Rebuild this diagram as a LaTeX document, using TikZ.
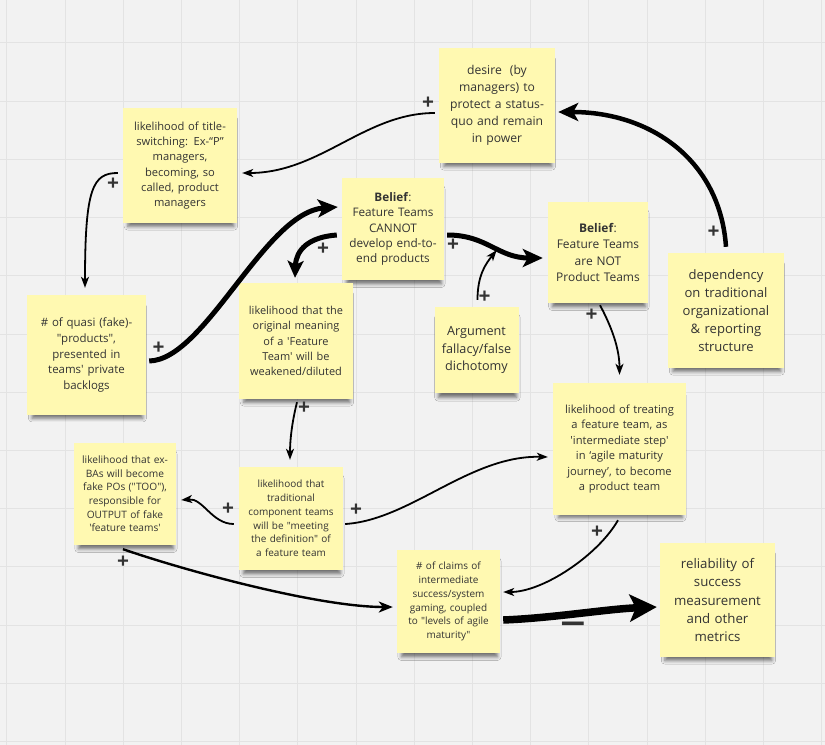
\documentclass[tikz,border=0pt]{standalone}
\usepackage{fontspec}
\usepackage{graphicx}
\setmainfont{Open Sans}[Ligatures=TeXOff]
\usetikzlibrary{arrows.meta,shadows.blur,calc}
\definecolor{bgc}{HTML}{F2F2F2}
\definecolor{gridc}{HTML}{E3E3E3}
\definecolor{notec}{HTML}{FFF9B1}
\definecolor{txtc}{HTML}{333333}
\tikzset{
  note/.style={rectangle, fill=notec, inner sep=0pt, align=center, text=txtc,
    blur shadow={shadow xshift=1bp, shadow yshift=-8bp, shadow blur radius=4bp, shadow opacity=55, shadow scale=0.93}},
  link/.style={draw=black, line width=1.8bp, -{Stealth[length=11bp,width=8bp,inset=3bp]}},
  midlink/.style={draw=black, line width=2.4bp, -{Stealth[length=14bp,width=11bp,inset=4bp]}},
  boldlink/.style={draw=black, line width=5bp, -{Stealth[length=20bp,width=18bp,inset=5bp]}},
  hugelink/.style={draw=black, line width=7.5bp, -{Stealth[length=27bp,width=27bp,inset=6bp]}},
  sign/.style={font=\bfseries\fontsize{21}{21}\selectfont, text=txtc, inner sep=0pt},
}
\begin{document}
\begin{tikzpicture}[x=1bp,y=-1bp]
\useasboundingbox (0,0) rectangle (825,745);
\fill[bgc] (0,0) rectangle (825,745);
\foreach \i in {0,...,14} {\draw[gridc, line width=1bp] ({6.8+58.2*\i},0) -- ({6.8+58.2*\i},745);}
\foreach \i in {0,...,12} {\draw[gridc, line width=1bp] (0,{43+58.2*\i}) -- (825,{43+58.2*\i});}

% notes
\node[note, minimum width=116bp, minimum height=115bp, text width=116bp, font=\fontsize{12.2}{17}\selectfont] (desire) at (497,105.5)
  {desire\ \ (by\\managers) to\\protect a status-\\quo and remain\\in power};
\node[note, minimum width=114bp, minimum height=115bp, text width=114bp, font=\fontsize{11.2}{15.3}\selectfont] (title) at (180,165.5)
  {likelihood of title-\\switching: Ex-“P”\\managers,\\becoming, so\\called, product\\managers};
\node[note, minimum width=102bp, minimum height=102bp, text width=102bp, font=\fontsize{11.8}{15.4}\selectfont] (bcannot) at (393,229)
  {\textbf{Belief}:\\Feature Teams\\CANNOT\\develop end-to-\\end products};
\node[note, minimum width=100bp, minimum height=101bp, text width=100bp, font=\fontsize{12}{16.2}\selectfont] (bnot) at (598,252.5)
  {\textbf{Belief}:\\Feature Teams\\are NOT\\Product Teams};
\node[note, minimum width=116bp, minimum height=115bp, text width=116bp, font=\fontsize{13.1}{18.2}\selectfont] (dep) at (726,310.5)
  {dependency\\on traditional\\organizational\\\& reporting\\structure};
\node[note, minimum width=119bp, minimum height=120bp, text width=119bp, font=\fontsize{11.5}{16}\selectfont] (quasi) at (86.5,355)
  {\# of quasi (fake)-\\"products",\\presented in\\teams' private\\backlogs};
\node[note, minimum width=114bp, minimum height=116bp, text width=114bp, font=\fontsize{11}{15.25}\selectfont] (orig) at (296,341)
  {likelihood that the\\original meaning\\of a 'Feature\\Team' will be\\weakened/diluted};
\node[note, minimum width=84bp, minimum height=86bp, text width=84bp, font=\fontsize{12.7}{17.8}\selectfont] (arg) at (476.5,350)
  {Argument\\fallacy/false\\dichotomy};
\node[note, minimum width=133bp, minimum height=132bp, text width=133bp, font=\fontsize{11.2}{15.5}\selectfont] (treat) at (619.5,449)
  {likelihood of treating\\a feature team, as\\'intermediate step'\\in ‘agile maturity\\journey’, to become\\a product team};
\node[note, minimum width=102bp, minimum height=102bp, text width=102bp, font=\fontsize{10.2}{13.7}\selectfont] (exba) at (125,494)
  {likelihood that ex-\\BAs will become\\fake POs ("TOO"),\\responsible for\\OUTPUT of fake\\'feature teams'};
\node[note, minimum width=104bp, minimum height=103bp, text width=104bp, font=\fontsize{10}{13.8}\selectfont] (trad) at (291,518.5)
  {likelihood that\\traditional\\component teams\\will be "meeting\\the definition" of\\a feature team};
\node[note, minimum width=103bp, minimum height=103bp, text width=103bp, font=\fontsize{10}{13.9}\selectfont] (claims) at (448.5,601.5)
  {\# of claims of\\intermediate\\success/system\\gaming, coupled\\to "levels of agile\\maturity"};
\node[note, minimum width=115bp, minimum height=114bp, text width=115bp, font=\fontsize{13.3}{18.2}\selectfont] (rel) at (717.5,600)
  {reliability of\\success\\measurement\\and other\\metrics};

% connectors
\draw[link] ([shift={(-4,7.5)}]desire.west) .. controls +(-70,0) and +(78,0) .. ([shift={(5,7.5)}]title.east);
\draw[link] ([shift={(-5,7.5)}]title.west) .. controls +(-25,0) and +(0,-100) .. ([shift={(-1.5,-7)}]quasi.north);
\draw[boldlink] ([shift={(3,6)}]quasi.east) .. controls +(56,-1) and +(-73,5) .. ([shift={(-4,-22)}]bcannot.west);
\draw[boldlink, -{Stealth[length=17bp,width=16bp,inset=4bp]}] ([shift={(-5,6)}]bcannot.west) .. controls +(-28,2) and +(1,-28) .. ([shift={(-1,-5)}]orig.north);
\draw[boldlink] ([shift={(3,6)}]bcannot.east) .. controls +(40,0) and +(-45,0) .. ([shift={(-5,5.5)}]bnot.west) coordinate[pos=0.56] (emid);
\draw[link, shorten >=2bp] ([shift={(1,-7)}]arg.north) .. controls +(0,-25) and +(-12,15) .. (emid);
\draw[link] ([shift={(2,2)}]bnot.south) .. controls +(8,15) and +(0,-30) .. ([shift={(0,-8)}]treat.north);
\draw[boldlink, line width=4.5bp] ([shift={(0,-6)}]dep.north) .. controls +(-6,-87) and +(92,0) .. ([shift={(3,6.5)}]desire.east);
\draw[link] ([shift={(1,3)}]orig.south) .. controls +(-5,20) and +(0,-20) .. ([shift={(-1,-7)}]trad.north);
\draw[link] ([shift={(-5,5.5)}]trad.west) .. controls +(-22,0) and +(22,-2) .. ([shift={(5,6)}]exba.east);
\draw[link] ([shift={(2,5.5)}]trad.east) .. controls +(65,-4) and +(-78,-2) .. ([shift={(-5,8)}]treat.west);
\draw[midlink] ([shift={(-2,4)}]exba.south) .. controls +(67,23) and +(-73,0) .. ([shift={(-4,5.5)}]claims.west);
\draw[link] ([shift={(-1.5,5)}]treat.south) .. controls +(-20,35) and +(40,0) .. ([shift={(3,-9.5)}]claims.east);
\draw[hugelink] ([shift={(3,18.5)}]claims.east) .. controls +(50,-2) and +(-50,2) .. ([shift={(-3,7)}]rel.west);

% signs
\node[sign] (sA) at (428,103) {+};
\node[sign] (sB) at (113,184) {+};
\node[sign] (sC) at (158.5,348) {+};
\node[sign] (sD) at (323,249) {+};
\node[sign] (sE) at (453,245.5) {+};
\node[sign] (sF) at (484.5,297) {+};
\node[sign] (sG) at (591.5,315.5) {+};
\node[sign] (sH) at (713.5,232) {+};
\node[sign] (sI) at (304,408.5) {+};
\node[sign] (sJ) at (228,509.5) {+};
\node[sign] (sK) at (356,510) {+};
\node[sign] (sL) at (123,562) {+};
\node[sign] (sM) at (597,532) {+};
\node[sign, font=\bfseries\fontsize{19}{19}\selectfont] (sN) at (573,627.5) {\scalebox{1.25}[1.7]{—}};
\end{tikzpicture}
\end{document}
